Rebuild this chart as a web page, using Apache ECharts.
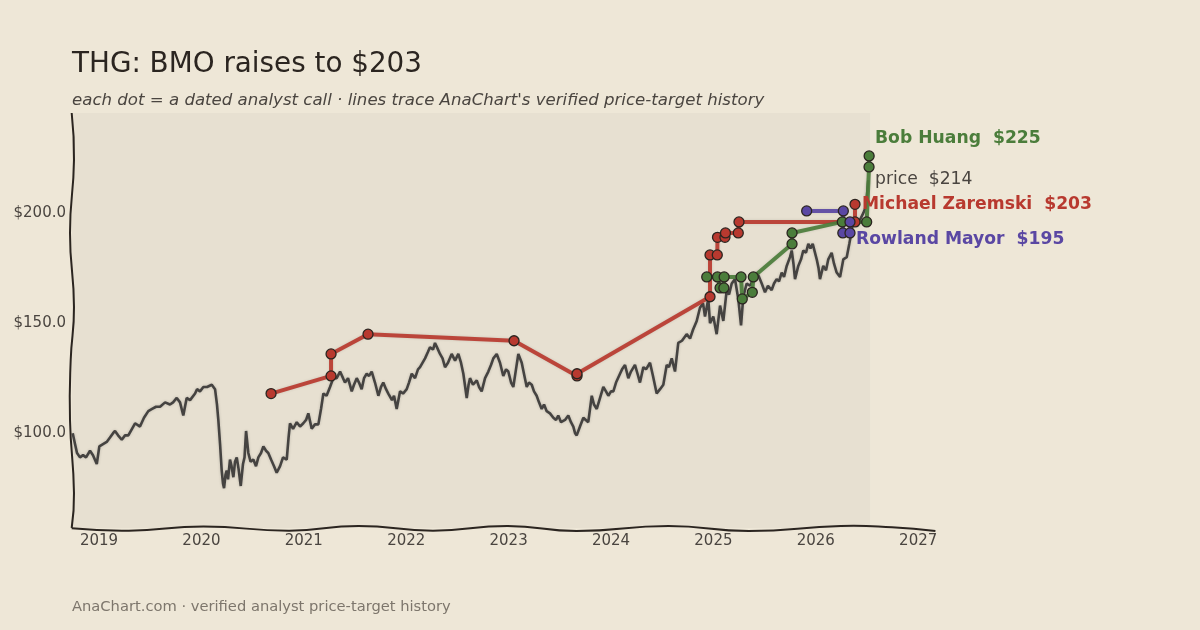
<!DOCTYPE html>
<html>
<head>
<meta charset="utf-8">
<script src="https://cdn.jsdelivr.net/npm/echarts@6/dist/echarts.min.js"></script>
<style>
  html, body { margin: 0; padding: 0; background: #eee7d7; }
  #chart { width: 1200px; height: 630px; }
</style>
</head>
<body>
<div id="chart"></div>
<script>
// 股价（按年份小数表示日期）
const priceYears = [
  2018.743, 2018.766, 2018.785, 2018.814, 2018.844, 2018.873, 2018.912, 2018.941, 2018.978, 2019.003,
  2019.039, 2019.075, 2019.107, 2019.137, 2019.156, 2019.186, 2019.222, 2019.254, 2019.286, 2019.322,
  2019.352, 2019.400, 2019.439, 2019.481, 2019.518, 2019.557, 2019.596, 2019.645, 2019.693, 2019.723,
  2019.759, 2019.791, 2019.823, 2019.856, 2019.889, 2019.938, 2019.957, 2019.986, 2020.019, 2020.055,
  2020.101, 2020.133, 2020.152, 2020.165, 2020.182, 2020.198, 2020.211, 2020.221, 2020.235, 2020.247,
  2020.260, 2020.279, 2020.294, 2020.312, 2020.328, 2020.345, 2020.362, 2020.384, 2020.406, 2020.421,
  2020.436, 2020.458, 2020.480, 2020.507, 2020.533, 2020.556, 2020.582, 2020.605, 2020.631, 2020.653,
  2020.680, 2020.709, 2020.735, 2020.768, 2020.797, 2020.833, 2020.851, 2020.865, 2020.895, 2020.931,
  2020.963, 2020.995, 2021.022, 2021.044, 2021.077, 2021.109, 2021.142, 2021.168, 2021.191, 2021.222,
  2021.256, 2021.288, 2021.321, 2021.354, 2021.383, 2021.402, 2021.432, 2021.468, 2021.490, 2021.517,
  2021.539, 2021.565, 2021.588, 2021.614, 2021.637, 2021.663, 2021.695, 2021.728, 2021.754, 2021.776,
  2021.803, 2021.825, 2021.861, 2021.881, 2021.907, 2021.940, 2021.969, 2022.005, 2022.027, 2022.054,
  2022.086, 2022.115, 2022.135, 2022.184, 2022.213, 2022.232, 2022.262, 2022.281, 2022.301, 2022.330,
  2022.355, 2022.379, 2022.408, 2022.444, 2022.477, 2022.509, 2022.535, 2022.558, 2022.591, 2022.609,
  2022.623, 2022.652, 2022.689, 2022.711, 2022.737, 2022.770, 2022.802, 2022.828, 2022.851, 2022.884,
  2022.916, 2022.948, 2022.975, 2022.997, 2023.024, 2023.046, 2023.072, 2023.095, 2023.128, 2023.150,
  2023.177, 2023.199, 2023.226, 2023.248, 2023.274, 2023.297, 2023.323, 2023.346, 2023.372, 2023.404,
  2023.437, 2023.463, 2023.485, 2023.512, 2023.551, 2023.583, 2023.609, 2023.632, 2023.649, 2023.665,
  2023.697, 2023.730, 2023.746, 2023.778, 2023.795, 2023.812, 2023.834, 2023.861, 2023.893, 2023.925,
  2023.951, 2023.974, 2024.000, 2024.023, 2024.049, 2024.088, 2024.108, 2024.137, 2024.169, 2024.195,
  2024.234, 2024.259, 2024.283, 2024.316, 2024.342, 2024.381, 2024.410, 2024.446, 2024.479, 2024.511,
  2024.544, 2024.566, 2024.593, 2024.625, 2024.657, 2024.693, 2024.739, 2024.772, 2024.801, 2024.837,
  2024.869, 2024.899, 2024.918, 2024.950, 2024.967, 2024.999, 2025.032, 2025.065, 2025.097, 2025.130,
  2025.153, 2025.179, 2025.211, 2025.243, 2025.270, 2025.292, 2025.325, 2025.358, 2025.390, 2025.423,
  2025.446, 2025.472, 2025.504, 2025.533, 2025.569, 2025.592, 2025.618, 2025.641, 2025.667, 2025.690,
  2025.716, 2025.748, 2025.765, 2025.782, 2025.797, 2025.829, 2025.856, 2025.878, 2025.904, 2025.927,
  2025.948, 2025.970, 2026.009, 2026.027, 2026.041, 2026.073, 2026.100, 2026.122, 2026.155, 2026.178,
  2026.204, 2026.237, 2026.269, 2026.302, 2026.327, 2026.351, 2026.366, 2026.400, 2026.432, 2026.464,
  2026.490, 2026.513
]
const priceValues = [
  99, 94, 90, 88, 89, 88, 91, 89, 85, 93,
  94, 95, 97, 99, 100, 98, 96, 98, 98, 101,
  103.5, 102, 106, 109, 110, 111, 111, 113, 112, 113,
  115, 113, 107, 115, 114, 117, 119, 118, 120, 120,
  121, 119, 112, 105, 94, 82, 76, 74, 80, 82,
  78, 87, 84, 79, 86, 88, 83, 75, 85, 88,
  100, 90, 86, 87, 84, 88, 90, 93, 91, 90,
  87, 84, 81, 84, 88, 87, 97, 103.5, 101, 104,
  102, 103.5, 105, 108, 101, 103, 103, 110, 117, 116,
  120, 124, 124, 127, 124, 122, 124, 118, 121, 124,
  122, 119, 124, 126, 125, 127, 122, 116, 120, 122,
  119, 117, 114, 116, 110, 118, 117, 119, 122, 126,
  124, 128, 129, 133, 136, 138, 137, 140, 138, 135,
  133, 129, 131, 135, 132, 135, 131, 126, 115, 121,
  124, 121, 123, 120, 118, 124, 127, 130, 133, 135,
  131, 125, 128, 127, 122, 120, 128, 135, 131, 126,
  120, 122, 121, 118, 116, 113, 110, 112, 109, 108,
  106, 105, 107, 104, 105, 107, 104, 102, 99, 98,
  102, 106, 106, 104, 110, 116, 112, 110, 115, 120,
  118, 116, 118, 118, 122, 126, 128, 130, 124, 127,
  130, 126, 122, 129, 128, 131, 125, 117, 119, 121,
  130, 129, 133, 127, 140, 141, 144, 142, 146, 150,
  156, 158, 152, 160, 149, 152, 144, 157, 150, 164,
  162, 167, 169, 160, 148, 161, 167, 166, 169, 172,
  170, 167, 163, 166, 164, 167, 169, 168, 172, 170,
  175, 179, 182, 176, 169, 175, 178, 182, 181, 185,
  183, 185, 178, 174, 169, 175, 173, 178, 181, 176,
  172, 170, 178, 179, 185, 191, 197, 193, 196, 199,
  202, 214
]

// 分析师目标价
const zaremskiYears = [2020.680, 2021.266, 2021.266, 2021.627, 2023.053, 2023.668, 2023.668, 2024.967, 2024.967,
  2025.038, 2025.040, 2025.113, 2025.118, 2025.243, 2025.250, 2026.383, 2026.383]
const zaremskiTargets = [117, 125, 135, 144, 141, 125, 126, 161, 180, 180, 188, 188, 190, 190, 195, 195, 203]

const huangYears = [2024.935, 2025.040, 2025.065, 2025.102, 2025.105, 2025.270, 2025.282, 2025.380, 2025.390,
  2025.768, 2025.768, 2026.259, 2026.497, 2026.520, 2026.521]
const huangTargets = [170, 170, 165, 165, 170, 170, 160, 163, 170, 185, 190, 195, 195, 220, 225]

const mayorYears = [2025.911, 2026.269, 2026.264, 2026.334, 2026.334]
const mayorTargets = [200, 200, 190, 190, 195]

const yearTicks = [2019, 2020, 2021, 2022, 2023, 2024, 2025, 2026, 2027]
const priceTicks = [100, 150, 200]

const RED = '#b8392f'
const GREEN = '#4b7d3b'
const PURPLE = '#5a47a3'
const INK = '#2b2520'

const zip = (xs, ys) => xs.map((x, i) => [x, ys[i]])

const chart = echarts.init(document.getElementById('chart'))

function analystSeries(name, years, targets, color) {
  return {
    name,
    type: 'line',
    data: zip(years, targets),
    z: 5,
    symbol: 'circle',
    symbolSize: 10,
    lineStyle: { color, width: 4, opacity: 0.92, shadowBlur: 3, shadowColor: 'rgba(0,0,0,0.12)' },
    itemStyle: { color, borderColor: INK, borderWidth: 1.3 },
    emphasis: { disabled: true },
    animation: false
  }
}

const option = {
  backgroundColor: '#eee7d7',
  animation: false,
  grid: { left: 72, right: 264, top: 113, bottom: 102 },
  xAxis: {
    type: 'value',
    min: 2018.736,
    max: 2027.174,
    splitNumber: 9,
    axisLine: { show: false },
    axisTick: { show: false },
    splitLine: { show: false },
    axisLabel: {
      margin: 6,
      color: '#4a4540',
      fontFamily: 'DejaVu Sans',
      fontSize: 15,
      showMinLabel: true,
      showMaxLabel: true,
      formatter: v => (yearTicks.includes(Math.round(v * 1000) / 1000) ? String(v) : '')
    }
  },
  yAxis: {
    type: 'value',
    min: 55.9,
    max: 244.5,
    splitNumber: 4,
    axisLine: { show: false },
    axisTick: { show: false },
    splitLine: { show: false },
    axisLabel: {
      margin: 6,
      color: '#4a4540',
      fontFamily: 'DejaVu Sans',
      fontSize: 15,
      formatter: v => (priceTicks.includes(v) ? '{p|$' + v.toFixed(1) + '}' : ''),
      rich: {
        p: { fontFamily: 'DejaVu Sans', fontSize: 15, color: '#4a4540', padding: [5, 0, 0, 0] }
      }
    }
  },
  series: [
    {
      name: 'price',
      type: 'line',
      data: zip(priceYears, priceValues),
      z: 3,
      showSymbol: false,
      lineStyle: { color: '#454341', width: 2.6, shadowBlur: 3, shadowColor: 'rgba(0,0,0,0.18)' },
      emphasis: { disabled: true },
      markArea: {
        silent: true,
        z: 1,
        itemStyle: { color: '#e7e0d1' },
        data: [[{ xAxis: 2018.736 }, { xAxis: 2026.53 }]]
      }
    },
    analystSeries('Michael Zaremski', zaremskiYears, zaremskiTargets, RED),
    analystSeries('Bob Huang', huangYears, huangTargets, GREEN),
    analystSeries('Rowland Mayor', mayorYears, mayorTargets, PURPLE)
  ],
  graphic: [
    // 手绘风格的坐标轴
    {
      type: 'polyline', z: 10, silent: true,
      shape: { smooth: 0.5, points: [[71.7, 113], [74, 160], [70, 233], [74, 307], [70.7, 360], [70, 420], [74, 493], [71.7, 528]] },
      style: { stroke: INK, lineWidth: 2, fill: null }
    },
    {
      type: 'polyline', z: 10, silent: true,
      shape: { smooth: 0.5, points: [[71.7, 528.3], [129, 530.7], [203.5, 526.5], [289.6, 530.7], [358.5, 526], [433, 530.7], [507.8, 526], [576.6, 531], [668.5, 526], [748.9, 531], [840.7, 526], [892, 527.3], [935.4, 531]] },
      style: { stroke: INK, lineWidth: 2, fill: null }
    },
    // 标题
    { type: 'text', z: 100, left: 72, top: 51, style: { text: 'THG: BMO raises to $203', font: '27.8px "DejaVu Sans"', fill: '#2b2520' } },
    { type: 'text', z: 100, left: 72, top: 92, style: { text: "each dot = a dated analyst call · lines trace AnaChart's verified price-target history", font: 'italic 16.6px "DejaVu Sans"', fill: '#4a4540' } },
    { type: 'text', z: 100, left: 72, top: 600, style: { text: 'AnaChart.com · verified analyst price-target history', font: '14.7px "DejaVu Sans"', fill: '#7d766c' } },
    // 右侧标签
    { type: 'text', z: 100, left: 875, top: 130, style: { text: 'Bob Huang  $225', font: 'bold 17.2px "DejaVu Sans"', fill: GREEN } },
    { type: 'text', z: 100, left: 875, top: 171, style: { text: 'price  $214', font: '17.2px "DejaVu Sans"', fill: '#4a4540' } },
    { type: 'text', z: 100, left: 862, top: 196, style: { text: 'Michael Zaremski  $203', font: 'bold 17.2px "DejaVu Sans"', fill: RED } },
    { type: 'text', z: 100, left: 856, top: 231, style: { text: 'Rowland Mayor  $195', font: 'bold 17.2px "DejaVu Sans"', fill: PURPLE } }
  ]
}

chart.setOption(option)
</script>
</body>
</html>
